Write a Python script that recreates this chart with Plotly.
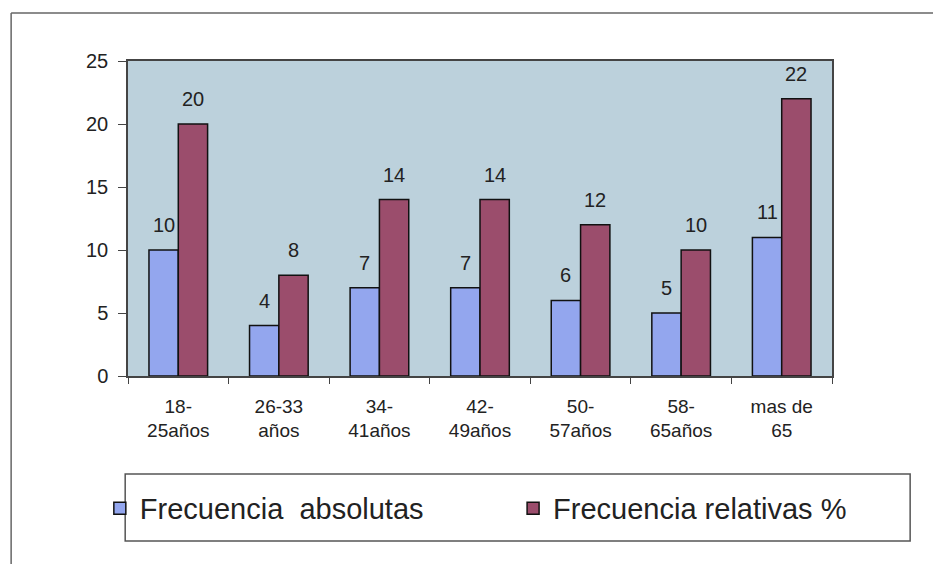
import plotly.graph_objects as go

grupos = ['18-<br>25años', '26-33<br>años', '34-<br>41años', '42-<br>49años',
          '50-<br>57años', '58-<br>65años', 'mas de<br>65']
frec_absolutas = [10, 4, 7, 7, 6, 5, 11]
frec_relativas = [20, 8, 14, 14, 12, 10, 22]

fuente = 'Liberation Sans, Arial, sans-serif'

fig = go.Figure()
fig.add_trace(go.Bar(x=grupos, y=frec_absolutas, name='Frecuencia  absolutas',
                     marker=dict(color='#93a6ee', line=dict(color='#111111', width=1.5)),
                     legend='legend'))
fig.add_trace(go.Bar(x=grupos, y=frec_relativas, name='Frecuencia relativas %',
                     marker=dict(color='#9b4d6c', line=dict(color='#111111', width=1.5)),
                     legend='legend2'))

# etiquetas de valor encima de cada barra
for serie, desplaz in [(frec_absolutas, -14.7), (frec_relativas, 14.7)]:
    for g, v in zip(grupos, serie):
        fig.add_annotation(x=g, y=v, text=str(v), showarrow=False, xshift=desplaz, yshift=25,
                           font=dict(size=20, color='#222222'))

leyenda = dict(orientation='h', y=-0.42, yanchor='middle', xanchor='left',
               font=dict(size=29, color='#222222'), bgcolor='rgba(0,0,0,0)', borderwidth=0)

fig.update_layout(
    width=941, height=564,
    margin=dict(l=120, r=117, t=53, b=196),
    paper_bgcolor='white',
    plot_bgcolor='#bcd1dc',
    font=dict(family=fuente, color='#222222'),
    barmode='group',
    bargap=0.417,
    bargroupgap=0,
    showlegend=True,
    legend=dict(leyenda, x=-0.04),
    legend2=dict(leyenda, x=0.547),
)
fig.update_xaxes(tickfont=dict(size=19), ticks='outside', ticklen=6, tickson='boundaries',
                 ticklabelstandoff=12,
                 tickcolor='#444444', showline=True, linecolor='#444444', linewidth=1.5,
                 mirror=True, showgrid=False, automargin=False)
fig.update_yaxes(range=[0, 25], dtick=5, tickfont=dict(size=20), ticks='outside', ticklen=8,
                 ticklabelstandoff=6,
                 tickcolor='#444444', showline=True, linecolor='#444444', linewidth=1.5,
                 mirror=True, showgrid=False, zeroline=False, automargin=False)

# marco exterior y cuadro de la leyenda
fig.add_shape(type='line', xref='paper', yref='paper', x0=-0.166, x1=1.16, y0=1.152, y1=1.152,
              line=dict(color='#666666', width=1.5))
fig.add_shape(type='line', xref='paper', yref='paper', x0=-0.166, x1=-0.166, y0=1.152, y1=-0.6,
              line=dict(color='#666666', width=1.5))
fig.add_shape(type='rect', xref='paper', yref='paper', x0=-0.004, x1=1.111, y0=-0.311, y1=-0.524,
              line=dict(color='#555555', width=1.5))

fig.write_html('out.html')
